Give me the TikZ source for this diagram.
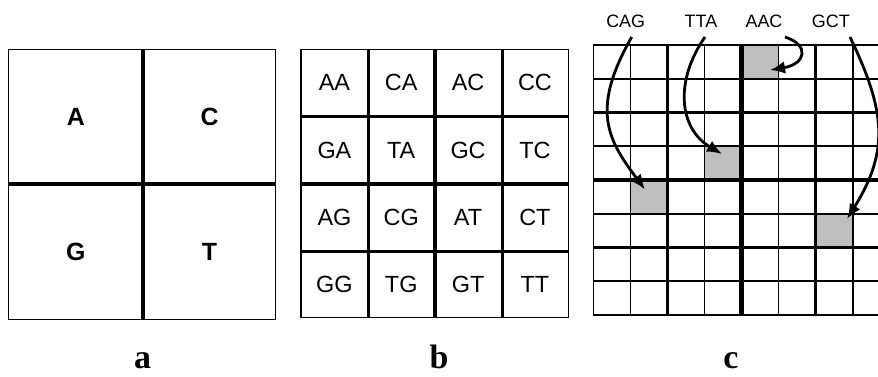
\documentclass[tikz,border=0pt]{standalone}
\usepackage{fontspec}
\setmainfont{Liberation Sans}
\newfontfamily\captionfont{Liberation Serif}
\usetikzlibrary{arrows.meta}

\tikzset{
  frame/.style={line width=1.5bp, draw=black},
  gridthin/.style={line width=1.6bp},
  gridmid/.style={line width=2.8bp},
  gridquarter/.style={line width=3.4bp},
  gridcenter/.style={line width=4.3bp},
  baseletter/.style={font=\fontsize{25}{25}\selectfont\bfseries, inner sep=0pt},
  pairtext/.style={font=\fontsize{23.5}{23.5}\selectfont, inner sep=0pt},
  kmertext/.style={font=\fontsize{18}{18}\selectfont, inner sep=0pt},
  panelcap/.style={font=\captionfont\bfseries\fontsize{34}{34}\selectfont, inner sep=0pt, anchor=base},
  hit/.style={fill=black!25},
  pointer/.style={line width=2.8bp, -{Latex[length=15bp,width=12.5bp]}},
}

\begin{document}
\begin{tikzpicture}[x=1bp, y=-1bp]
\useasboundingbox (0,0) rectangle (878,376);
\begin{scope}
\clip (0,0) rectangle (878,376);

% ---------- panel a: single bases ----------
\draw[frame] (8.3,49.3) rectangle (275.7,319.3);
\draw[gridcenter] (143.3,49.3) -- (143.3,319.3);
\draw[gridcenter] (8.3,184.3) -- (275.7,184.3);
\node[baseletter] (a-A) at (75.8,116.8) {A};
\node[baseletter] (a-C) at (209.5,116.8) {C};
\node[baseletter] (a-G) at (75.8,251.8) {G};
\node[baseletter] (a-T) at (209.5,251.8) {T};

% ---------- panel b: dinucleotides ----------
\draw[frame] (301,49.3) rectangle (568.3,317.7);
\foreach \x in {368.3,502.3} \draw[gridmid] (\x,49.3) -- (\x,317.7);
\foreach \y in {116.7,251.7} \draw[gridmid] (301,\y) -- (568.3,\y);
\draw[gridcenter] (435,49.3) -- (435,317.7);
\draw[gridcenter] (301,184.3) -- (568.3,184.3);
\foreach \row/\labels in {0/{AA,CA,AC,CC},1/{GA,TA,GC,TC},2/{AG,CG,AT,CT},3/{GG,TG,GT,TT}}{
  \foreach \lab [count=\col from 0] in \labels {
    \node[pairtext] (b-\lab) at ({301+66.83*(\col+0.5)},{49.3+67.1*(\row+0.5)}) {\lab};
  }
}

% ---------- panel c: trinucleotides ----------
\def\cx{593.3}\def\cy{45}\def\cw{37.06}\def\ch{33.75}
% highlighted cells
\fill[hit] ({\cx+4*\cw},{\cy+0*\ch}) rectangle ++(\cw,\ch); % AAC
\fill[hit] ({\cx+3*\cw},{\cy+3*\ch}) rectangle ++(\cw,\ch); % TTA
\fill[hit] ({\cx+1*\cw},{\cy+4*\ch}) rectangle ++(\cw,\ch); % CAG
\fill[hit] ({\cx+6*\cw},{\cy+5*\ch}) rectangle ++(\cw,\ch); % GCT
% grid
\foreach \i in {0,...,8} {
  \draw[gridthin] ({\cx+\i*\cw},\cy) -- ({\cx+\i*\cw},{\cy+8*\ch});
  \draw[gridthin] (\cx,{\cy+\i*\ch}) -- ({\cx+8*\cw},{\cy+\i*\ch});
}
\foreach \i in {2,6} {
  \draw[gridquarter] ({\cx+\i*\cw},\cy) -- ({\cx+\i*\cw},{\cy+8*\ch});
  \draw[gridquarter] (\cx,{\cy+\i*\ch}) -- ({\cx+8*\cw},{\cy+\i*\ch});
}
\draw[gridcenter] ({\cx+4*\cw},\cy) -- ({\cx+4*\cw},{\cy+8*\ch});
\draw[gridcenter] (\cx,{\cy+4*\ch}) -- ({\cx+8*\cw},{\cy+4*\ch});

% k-mer labels
\node[kmertext] (cag) at (625.7,21.7) {CAG};
\node[kmertext] (tta) at (701,21.7) {TTA};
\node[kmertext] (aac) at (764,21.7) {AAC};
\node[kmertext] (gct) at (830.8,21.7) {GCT};

% arrow ends
\coordinate (cag-s) at (631.7,37);
\coordinate (tta-s) at (705,37);
\coordinate (aac-s) at (785,37);
\coordinate (gct-s) at (850,37);
\coordinate (cag-t) at (645,189.5);
\coordinate (tta-t) at (722,154);
\coordinate (aac-t) at (770,70);
\coordinate (gct-t) at (847,219);

\draw[pointer] (cag-s) .. controls (590,110) and (608,140) .. (cag-t);
\draw[pointer] (tta-s) .. controls (675,80) and (678,128) .. (tta-t);
\draw[pointer] (aac-s) .. controls (810,45) and (806,64) .. (aac-t);
\draw[pointer] (gct-s) .. controls (885,110) and (890,150) .. (gct-t);

% ---------- panel captions ----------
\node[panelcap] (cap-a) at (142.5,368) {a};
\node[panelcap] (cap-b) at (439,368) {b};
\node[panelcap] (cap-c) at (731,368) {c};
\end{scope}
\end{tikzpicture}
\end{document}
